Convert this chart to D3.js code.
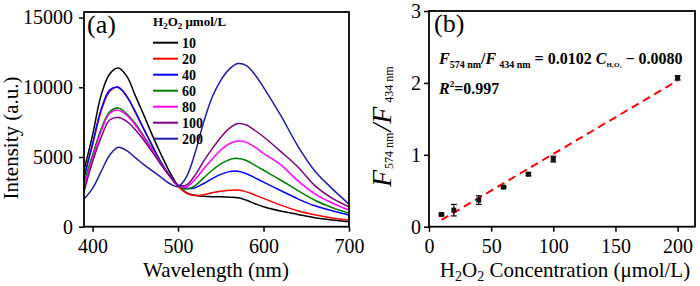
<!DOCTYPE html>
<html>
<head>
<meta charset="utf-8">
<script src="https://cdn.jsdelivr.net/npm/d3@7"></script>
<style>
  body { margin: 0; background: #fff; }
  svg, text, tspan { font-family: "Liberation Serif", "Times New Roman", "DejaVu Serif", serif; }
</style>
</head>
<body>
<script>
// spectra (panel a)
const wavelength = [390, 400, 410, 420, 430, 440, 450, 460, 470, 480, 490, 500, 510, 520, 530, 540, 550, 560, 570, 580, 590, 600, 620, 640, 660, 680, 700];
const s10 = [4060, 6570, 9430, 10950, 11380, 10800, 9400, 8000, 6550, 5200, 3950, 2950, 2450, 2250, 2180, 2150, 2140, 2120, 2080, 1900, 1650, 1430, 1120, 880, 640, 480, 360];
const s20 = [3700, 5850, 8300, 9700, 10020, 9350, 8200, 7000, 5800, 4600, 3650, 2900, 2400, 2230, 2300, 2430, 2540, 2610, 2630, 2500, 2270, 2030, 1550, 1150, 860, 630, 470];
const s40 = [3460, 5970, 8400, 9800, 9980, 9350, 8250, 7000, 5800, 4650, 3700, 2950, 2750, 2800, 3100, 3450, 3750, 3950, 3980, 3800, 3500, 3200, 2600, 2000, 1500, 1150, 840];
const s60 = [3220, 5130, 7000, 8250, 8520, 8100, 7400, 6500, 5550, 4550, 3650, 2950, 2700, 2950, 3500, 4050, 4500, 4800, 4900, 4750, 4400, 4050, 3350, 2600, 1900, 1380, 960];
const s80 = [2860, 4890, 6850, 8120, 8360, 8000, 7300, 6400, 5500, 4500, 3650, 2950, 2870, 3400, 4150, 4850, 5500, 5950, 6150, 6050, 5700, 5250, 4450, 3300, 2350, 1700, 1200];
const s100 = [2510, 4650, 6400, 7650, 7830, 7550, 6950, 6200, 5350, 4450, 3650, 3000, 3000, 3700, 4700, 5600, 6400, 7050, 7400, 7300, 6900, 6450, 5400, 4300, 2950, 2050, 1430];
const s200 = [1980, 2750, 3950, 5130, 5700, 5450, 4950, 4450, 4000, 3550, 3100, 2880, 3600, 5300, 7500, 9300, 10500, 11300, 11700, 11550, 10900, 10000, 8000, 5800, 4000, 2750, 1620];
const concLabels = ['10', '20', '40', '60', '80', '100', '200'];
const seriesColors = ['#000000', '#ff0000', '#0000ff', '#008000', '#ff00ff', '#800080', '#1c1cae'];
const spectra = [s10, s20, s40, s60, s80, s100, s200];

// ratio vs concentration (panel b)
const conc = [10, 20, 40, 60, 80, 100, 200];
const ratio = [0.17, 0.23, 0.37, 0.55, 0.73, 0.94, 2.07];
const ratioErr = [0.01, 0.08, 0.06, 0.01, 0.02, 0.04, 0.03];
const fitSlope = 0.0102;
const fitIntercept = -0.008;
const fitRange = [10, 200];

const svg = d3.select('body').append('svg')
  .attr('width', 700).attr('height', 286)
  .attr('font-family', '"Liberation Serif", serif');

// d3 axes put sans-serif on their group, drop that
const cleanAxis = (g) => {
  g.attr('font-family', null).attr('font-size', null);
  g.select('.domain').remove();
  g.selectAll('.tick text').attr('font-size', 20).attr('fill', '#000');
  g.selectAll('.tick line').attr('stroke-width', 1.5);
};

// ---------- panel (a)
const xA = d3.scaleLinear().domain([390, 700]).range([84, 349]);
const yA = d3.scaleLinear().domain([0, 15400]).range([226.7, 12]);

const gA = svg.append('g');

const line = d3.line()
  .x((d, i) => xA(wavelength[i]))
  .y((d) => yA(d))
  .curve(d3.curveCatmullRom.alpha(0.5));

gA.selectAll('.spec')
  .data(spectra)
  .join('path')
  .attr('class', 'spec')
  .attr('fill', 'none')
  .attr('stroke', (d, i) => seriesColors[i])
  .attr('stroke-width', 1.5)
  .attr('d', line);

gA.append('g')
  .attr('transform', 'translate(0,226.7)')
  .call(d3.axisBottom(xA).tickValues([400, 500, 600, 700]).tickSize(5).tickPadding(7))
  .call(cleanAxis);

gA.append('g')
  .attr('transform', 'translate(84,0)')
  .call(d3.axisLeft(yA).tickValues([0, 5000, 10000, 15000]).tickFormat(d3.format('d')).tickSize(5).tickPadding(6))
  .call(cleanAxis);

gA.append('rect')
  .attr('x', 84).attr('y', 12)
  .attr('width', 265).attr('height', 214.7)
  .attr('fill', 'none').attr('stroke', '#000').attr('stroke-width', 1.8);

gA.append('text').attr('x', 87).attr('y', 33).attr('font-size', 26).text('(a)');

gA.append('text')
  .attr('x', 216).attr('y', 277)
  .attr('text-anchor', 'middle').attr('font-size', 21)
  .text('Wavelength (nm)');

gA.append('text')
  .attr('transform', 'translate(18,138) rotate(-90)')
  .attr('text-anchor', 'middle').attr('font-size', 21)
  .text('Intensity (a.u.)');

// legend
const legTitle = gA.append('text').attr('x', 153).attr('y', 26)
  .attr('font-size', 13).attr('font-weight', 'bold');
legTitle.append('tspan').text('H');
legTitle.append('tspan').attr('font-size', 9).attr('dy', 3).text('2');
legTitle.append('tspan').attr('dy', -3).text('O');
legTitle.append('tspan').attr('font-size', 9).attr('dy', 3).text('2');
legTitle.append('tspan').attr('dy', -3).text(' \u03bcmol/L');

const legend = gA.selectAll('.leg')
  .data(concLabels)
  .join('g')
  .attr('class', 'leg')
  .attr('transform', (d, i) => `translate(153,${42.7 + i * 16})`);

legend.append('line')
  .attr('x1', 0).attr('x2', 25)
  .attr('stroke', (d, i) => seriesColors[i])
  .attr('stroke-width', 2);

legend.append('text')
  .attr('x', 29).attr('y', 5)
  .attr('font-size', 14).attr('font-weight', 'bold')
  .text((d) => d);

// ---------- panel (b)
const xB = d3.scaleLinear().domain([0, 214]).range([429, 695]);
const yB = d3.scaleLinear().domain([0, 3]).range([226.7, 11]);

const gB = svg.append('g');

gB.append('path')
  .datum(fitRange)
  .attr('fill', 'none')
  .attr('stroke', '#ff0000')
  .attr('stroke-width', 2)
  .attr('stroke-dasharray', '8,5')
  .attr('d', d3.line().x((d) => xB(d)).y((d) => yB(fitSlope * d + fitIntercept)));

const pts = gB.selectAll('.pt')
  .data(conc)
  .join('g')
  .attr('class', 'pt');

pts.append('line')
  .attr('x1', (d) => xB(d)).attr('x2', (d) => xB(d))
  .attr('y1', (d, i) => yB(ratio[i] - ratioErr[i]))
  .attr('y2', (d, i) => yB(ratio[i] + ratioErr[i]))
  .attr('stroke', '#000').attr('stroke-width', 1.2);

pts.selectAll('.cap')
  .data((d, i) => [[d, ratio[i] - ratioErr[i]], [d, ratio[i] + ratioErr[i]]])
  .join('line')
  .attr('class', 'cap')
  .attr('x1', (d) => xB(d[0]) - 3).attr('x2', (d) => xB(d[0]) + 3)
  .attr('y1', (d) => yB(d[1])).attr('y2', (d) => yB(d[1]))
  .attr('stroke', '#000').attr('stroke-width', 1.2);

pts.append('rect')
  .attr('x', (d) => xB(d) - 2.5)
  .attr('y', (d, i) => yB(ratio[i]) - 2.5)
  .attr('width', 5).attr('height', 5)
  .attr('fill', '#111');

gB.append('g')
  .attr('transform', 'translate(0,226.7)')
  .call(d3.axisBottom(xB).tickValues([0, 50, 100, 150, 200]).tickSize(5).tickPadding(7))
  .call(cleanAxis);

gB.append('g')
  .attr('transform', 'translate(429,0)')
  .call(d3.axisLeft(yB).tickValues([0, 1, 2, 3]).tickFormat(d3.format('d')).tickSize(5).tickPadding(3))
  .call(cleanAxis);

gB.append('rect')
  .attr('x', 429).attr('y', 11)
  .attr('width', 266).attr('height', 215.7)
  .attr('fill', 'none').attr('stroke', '#000').attr('stroke-width', 1.8);

gB.append('text').attr('x', 434).attr('y', 32).attr('font-size', 26).text('(b)');

// x title with subscripts
const xt = gB.append('text').attr('x', 565).attr('y', 277)
  .attr('text-anchor', 'middle').attr('font-size', 21);
xt.append('tspan').text('H');
xt.append('tspan').attr('font-size', 14).attr('dy', 4).text('2');
xt.append('tspan').attr('dy', -4).text('O');
xt.append('tspan').attr('font-size', 14).attr('dy', 4).text('2');
xt.append('tspan').attr('dy', -4).text(' Concentration (\u03bcmol/L)');

// y title F574nm/F434nm
const yt = gB.append('text').attr('transform', 'translate(391,187) rotate(-90)');
yt.append('tspan').attr('font-size', 28).attr('font-style', 'italic').text('F');
yt.append('tspan').attr('font-size', 12).attr('dx', 1).attr('dy', 2).text('574 nm');
yt.append('tspan').attr('font-size', 28).attr('font-style', 'italic').attr('dx', 1).attr('dy', -2).text('/F');
yt.append('tspan').attr('font-size', 12).attr('dx', 4).attr('dy', 2).text('434 nm');

// fit equation
const eq = gB.append('text').attr('x', 439).attr('y', 64)
  .attr('font-size', 16).attr('font-weight', 'bold');
eq.append('tspan').attr('font-style', 'italic').text('F');
eq.append('tspan').attr('font-size', 10).attr('dy', 4).text('574 nm');
eq.append('tspan').attr('dy', -4).text('/');
eq.append('tspan').attr('font-style', 'italic').text('F');
eq.append('tspan').attr('font-size', 10).attr('dx', 3).attr('dy', 4).text('434 nm');
eq.append('tspan').attr('dy', -4).text(` = ${fitSlope.toFixed(4)} `);
eq.append('tspan').attr('font-style', 'italic').text('C');
eq.append('tspan').attr('font-size', 7).attr('dy', 3).text('H\u2082O\u2082');
eq.append('tspan').attr('dy', -3).text(` \u2212 ${Math.abs(fitIntercept).toFixed(4)}`);

const r2 = gB.append('text').attr('x', 439).attr('y', 94)
  .attr('font-size', 16).attr('font-weight', 'bold');
r2.append('tspan').attr('font-style', 'italic').text('R');
r2.append('tspan').attr('font-size', 9).attr('dy', -7).text('2');
r2.append('tspan').attr('dy', 7).text('=0.997');
</script>
</body>
</html>
